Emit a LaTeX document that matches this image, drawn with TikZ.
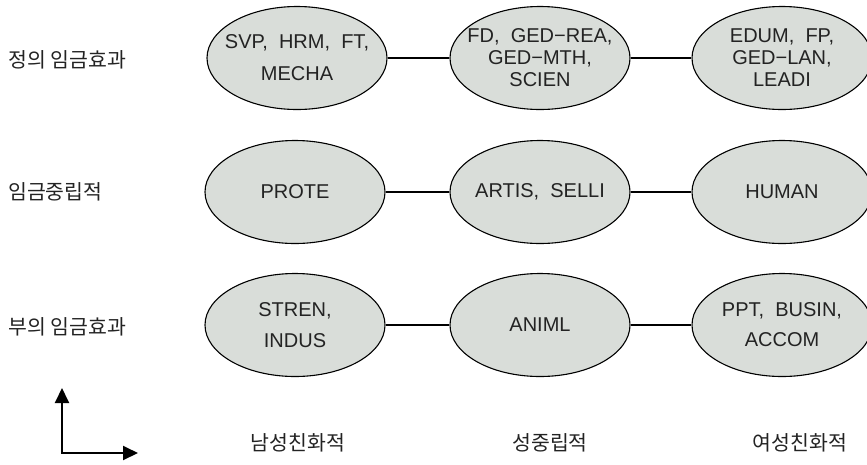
\documentclass[tikz,border=0pt]{standalone}
\usepackage{fontspec}
\setmainfont{Liberation Sans}
\newfontfamily\kor{Noto Sans CJK KR}
\usetikzlibrary{shapes.geometric,arrows.meta}
\definecolor{ellfill}{RGB}{217,221,217}
\definecolor{txt}{RGB}{35,35,35}
\tikzset{
  ell/.style={ellipse, draw=black, line width=1.1pt, fill=ellfill,
    minimum width=180pt, minimum height=103pt, inner xsep=-20pt, inner ysep=-15pt,
    align=center, text=txt, font=\fontsize{20}{22}\selectfont},
  conn/.style={line width=1.3pt},
  klab/.style={font=\kor\fontsize{20.5}{22}\selectfont, inner sep=0pt, text=txt},
  axis/.style={line width=2pt, {Triangle[length=15pt,width=14pt]}-{Triangle[length=15pt,width=14pt]}}
}
\begin{document}
\begin{tikzpicture}[x=1pt,y=-1pt]
\useasboundingbox (0,0) rectangle (867,464);
% row 1
\node[ell] (a1) at (297,58) {SVP,\ \ HRM,\ \ FT,\\[10pt]MECHA};
\node[ell] (a2) at (540,58) {FD,\ \ GED−REA,\\GED−MTH,\\SCIEN};
\node[ell] (a3) at (782,58) {EDUM,\ \ FP,\\GED−LAN,\\LEADI};
% row 2
\node[ell] (b1) at (295,192) {PROTE};
\node[ell] (b2) at (540,192) {ARTIS,\ \ SELLI};
\node[ell] (b3) at (782,192) {HUMAN};
% row 3
\node[ell] (c1) at (295,325) {STREN,\\[9pt]INDUS};
\node[ell] (c2) at (540,325) {ANIML};
\node[ell] (c3) at (782,325) {PPT,\ \ BUSIN,\\[8pt]ACCOM};
\draw[conn] (a1) -- (a2); \draw[conn] (a2) -- (a3);
\draw[conn] (b1) -- (b2); \draw[conn] (b2) -- (b3);
\draw[conn] (c1) -- (c2); \draw[conn] (c2) -- (c3);
% left labels
\node[klab, anchor=west] (l1) at (8,60) {정의 임금효과};
\node[klab, anchor=west] (l2) at (8,192) {임금중립적};
\node[klab, anchor=west] (l3) at (8,327) {부의 임금효과};
% bottom labels
\node[klab] (m1) at (298,443) {남성친화적};
\node[klab] (m2) at (550,443) {성중립적};
\node[klab] (m3) at (800,443) {여성친화적};
% axes
\coordinate (top) at (62,388);
\coordinate (corner) at (62,453);
\coordinate (right) at (138,453);
\draw[axis] (top) -- (corner) -- (right);
\end{tikzpicture}
\end{document}
